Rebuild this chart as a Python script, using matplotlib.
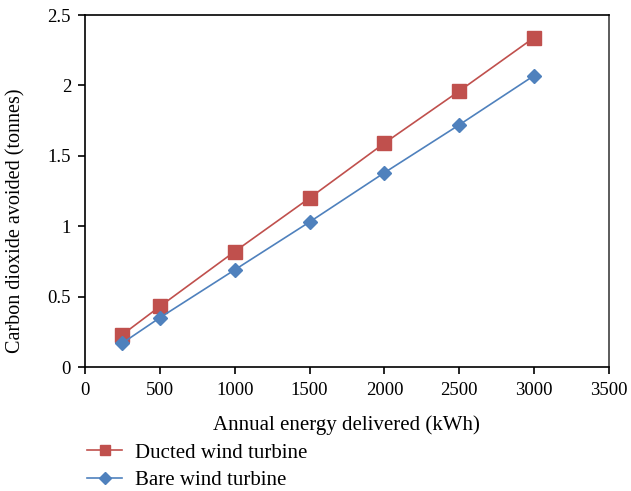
import matplotlib
matplotlib.use("Agg")
import matplotlib.pyplot as plt

energy = [250, 500, 1000, 1500, 2000, 2500, 3000]
ducted = [0.23, 0.43, 0.82, 1.20, 1.59, 1.96, 2.34]
bare = [0.17, 0.35, 0.69, 1.03, 1.38, 1.72, 2.07]
xticks = [0, 500, 1000, 1500, 2000, 2500, 3000, 3500]
yticks = [0, 0.5, 1, 1.5, 2, 2.5]
ytick_labels = ['0', '0.5', '1', '1.5', '2', '2.5']

plt.rcParams['font.family'] = ['Liberation Serif', 'DejaVu Serif']

fig = plt.figure(figsize=(6.31, 4.91), dpi=100)
ax = fig.add_axes([85/631, 1-367/491, (609-85)/631, (367-15)/491])

red = '#C0504D'
blue = '#4F81BD'
l1, = ax.plot(energy, ducted, color=red, marker='s', markersize=9.5, lw=1.2,
              label='Ducted wind turbine')
l2, = ax.plot(energy, bare, color=blue, marker='D', markersize=7.5, lw=1.2,
              label='Bare wind turbine')

ax.set_xlim(0, 3500)
ax.set_ylim(0, 2.5)
ax.set_xticks(xticks)
ax.set_yticks(yticks)
ax.set_yticklabels(ytick_labels)
ax.tick_params(labelsize=13.5, direction='out', length=5, width=1.2, colors='black')
ax.tick_params(axis='x', pad=6)
ax.tick_params(axis='y', pad=5)
for s in ['left', 'bottom', 'top']:
    ax.spines[s].set_linewidth(1.2)
    ax.spines[s].set_color('black')
ax.spines['right'].set_linewidth(1.2)
ax.spines['right'].set_color('#404040')

ax.set_xlabel('Annual energy delivered (kWh)', fontsize=15)
ax.xaxis.set_label_coords((346.5-85)/524, (367-425)/352)
ax.xaxis.label.set_va('center')
ax.set_ylabel('Carbon dioxide avoided (tonnes)', fontsize=14.5)
ax.yaxis.set_label_coords((16-85)/524, (367-221)/352)
ax.yaxis.label.set_va('center')

fig.legend(handles=[l1, l2], loc='upper left', bbox_to_anchor=(87/631, 1-443/491),
           frameon=False, fontsize=15, handlelength=1.7, handletextpad=0.6,
           labelspacing=0.38, borderpad=0, borderaxespad=0, markerscale=0.8)

fig.savefig('out.png', dpi=100)
